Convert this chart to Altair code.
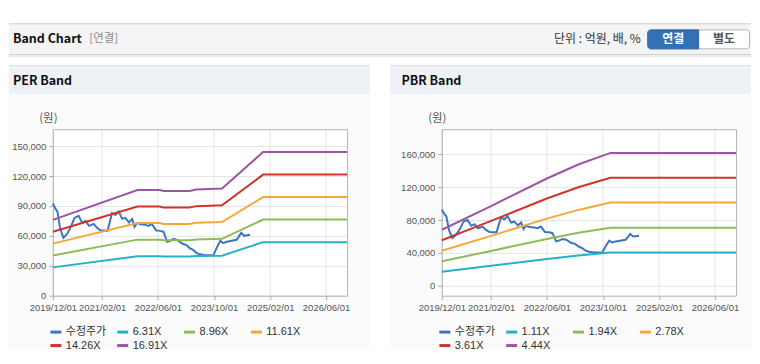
import altair as alt
import pandas as pd

# ---------------- data ----------------
price_name = "수정주가"
price_dates = [
    "2019-12-01", "2019-12-20", "2020-01-10", "2020-02-01", "2020-03-01", "2020-04-03",
    "2020-05-01", "2020-06-06", "2020-07-12", "2020-08-12", "2020-09-10", "2020-10-10",
    "2020-11-20", "2020-12-18", "2021-01-18", "2021-03-20", "2021-04-28", "2021-05-28",
    "2021-06-25", "2021-07-25", "2021-08-22", "2021-09-22", "2021-10-20", "2021-11-10",
    "2021-12-01", "2022-01-01", "2022-02-12", "2022-03-12", "2022-04-10", "2022-05-15",
    "2022-06-20", "2022-07-20", "2022-08-20", "2022-09-15", "2022-10-15", "2022-11-15",
    "2023-01-01", "2023-02-01", "2023-03-01", "2023-04-01", "2023-05-01", "2023-06-01",
    "2023-07-15", "2023-09-25", "2023-10-25", "2023-11-25", "2023-12-20", "2024-01-20",
    "2024-04-15", "2024-05-25", "2024-06-20", "2024-08-10",
]
price_vals = [
    92500, 88000, 84000, 68000, 58000, 62000,
    68000, 78000, 80000, 73000, 75000, 70000,
    72000, 68000, 65500, 65000, 83000, 81000,
    84500, 77000, 78000, 73500, 77000, 69000,
    73000, 71500, 71000, 70000, 72000, 65500,
    65000, 64000, 54000, 55000, 57000, 56000,
    52000, 51000, 48000, 46000, 43000, 41500,
    40500, 40500, 48000, 55000, 52700, 54000,
    56000, 63000, 60000, 61000,
]

per_names = ["6.31X", "8.96X", "11.61X", "14.26X", "16.91X"]
per_dates = ["2019-12-01", "2021-12-05", "2022-06-15", "2022-07-20", "2023-03-01",
             "2023-05-01", "2023-12-10", "2024-12-01", "2026-12-01"]
per_6_31 = [28400, 39600, 39600, 39200, 39200, 39700, 40100, 53700, 53700]
per_8_96 = [40300, 56200, 56200, 55600, 55600, 56400, 57000, 76300, 76300]
per_11_61 = [52200, 72800, 72800, 72000, 72000, 73100, 73800, 98900, 98900]
per_14_26 = [64100, 89400, 89400, 88500, 88500, 89800, 90700, 121400, 121400]
per_16_91 = [76000, 106000, 106000, 105000, 105000, 106500, 107500, 144000, 144000]

pbr_names = ["1.11X", "1.94X", "2.78X", "3.61X", "4.44X"]
pbr_dates = ["2019-12-01", "2021-02-01", "2022-06-01", "2023-03-01", "2023-12-05", "2026-12-01"]
pbr_1_11 = [17100, 24300, 32600, 36900, 40400, 40400]
pbr_1_94 = [29800, 42400, 57000, 64500, 70600, 70600]
pbr_2_78 = [42700, 60700, 81700, 92300, 101200, 101200]
pbr_3_61 = [55400, 78900, 106100, 119900, 131400, 131400]
pbr_4_44 = [68200, 97000, 130500, 147500, 161600, 161600]

x_ticks = ["2019-12-01", "2021-02-01", "2022-06-01", "2023-10-01", "2025-02-01", "2026-06-01"]
x_domain = ["2019-12-01", "2026-12-01"]
per_y_ticks = [0, 30000, 60000, 90000, 120000, 150000]
per_y_domain = [0, 167000]
pbr_y_ticks = [0, 40000, 80000, 120000, 160000]
pbr_y_domain = [-12000, 190500]

colors = ["#3b76c2", "#25b1c5", "#8fbb59", "#f3a93a", "#d0342c", "#9a56a3"]

# ---------------- style ----------------
W, H = 295, 167
KFONT = "Noto Sans CJK KR"
LFONT = "Liberation Sans, Noto Sans CJK KR"
AXFONT = "Liberation Sans"
BOTTOM = 221   # bottom of drawing, relative to plot top (page y 349)
RIGHT_L = 700  # right end of full-width header, relative to left plot (page x 752)
RIGHT_R = 310  # right end of right panel, relative to right plot (page x 752)


def dt(s):
    y, m, d = (int(p) for p in s.split("-"))
    return alt.DateTime(year=y, month=m, date=d, utc=True)


def box(x, x2, y, y2, **kw):
    return alt.Chart(alt.Data(values=[{}])).mark_rect(**kw).encode(
        x=alt.value(x), x2=alt.value(x2), y=alt.value(y), y2=alt.value(y2))


def label(x, y, text, **kw):
    return alt.Chart(alt.Data(values=[{}])).mark_text(text=text, baseline="middle", **kw).encode(
        x=alt.value(x), y=alt.value(y))


def panel(band_dates, band_vals, band_names, y_domain, y_ticks, deco):
    price_df = pd.DataFrame({"date": price_dates, "value": price_vals, "series": price_name})
    rows = []
    for name, vals in zip(band_names, band_vals):
        for d, v in zip(band_dates, vals):
            rows.append({"date": d, "value": v, "series": name})
    band_df = pd.DataFrame(rows)

    X = alt.X("date:T",
              scale=alt.Scale(type="utc", domain=[dt(d) for d in x_domain]),
              axis=alt.Axis(values=[dt(d) for d in x_ticks], format="%Y/%m/%d", title=None,
                            labelFont=AXFONT, labelFontSize=9.5, labelColor="#555",
                            tickSize=4, tickColor="#aaaaaa", domain=False, grid=False,
                            labelOverlap=False, labelFlush=False, labelPadding=3, zindex=1))
    Y = alt.Y("value:Q",
              scale=alt.Scale(domain=y_domain, nice=False, zero=False),
              axis=alt.Axis(values=y_ticks, format=",d", title="(원)", titleAngle=0,
                            titleX=-5, titleY=-11, titleAlign="center", titleBaseline="middle",
                            titleFont=KFONT, titleFontSize=11.5, titleFontWeight="normal",
                            titleColor="#555",
                            labelFont=AXFONT, labelFontSize=9.5, labelColor="#555",
                            tickSize=4, tickColor="#aaaaaa", domain=False, grid=False,
                            labelFlush=False, labelPadding=3, zindex=1))
    color = alt.Color("series:N",
                      scale=alt.Scale(domain=[price_name] + band_names, range=colors),
                      legend=alt.Legend(title=None, orient="none", legendX=-4, legendY=196.5,
                                        direction="horizontal", columns=4, gridAlign="all",
                                        columnPadding=4, rowPadding=0.5, padding=0,
                                        symbolType="stroke", symbolSize=121,
                                        symbolStrokeWidth=3, labelFont=LFONT,
                                        labelFontSize=11, labelColor="#333",
                                        labelOffset=3, labelLimit=200))

    plot_fill = box(0, W, 0, H, fill="white")
    vgrid = alt.Chart(pd.DataFrame({"date": x_ticks})).mark_rule(
        color="#e4e4e4", strokeWidth=1).encode(x=X, y=alt.value(0), y2=alt.value(H))
    hgrid = alt.Chart(pd.DataFrame({"value": y_ticks})).mark_rule(
        color="#e4e4e4", strokeWidth=1, yOffset=0.5).encode(y=Y, x=alt.value(0), x2=alt.value(W))
    border = box(0.5, W + 0.5, 0.5, H + 0.5, fill="transparent", stroke="#b5b5b5", strokeWidth=1)
    price_line = alt.Chart(price_df).mark_line(strokeWidth=2).encode(
        x=X, y=Y, color=color)
    band_lines = alt.Chart(band_df).mark_line(strokeWidth=2).encode(
        x=X, y=Y, color=color, detail="series:N")
    return alt.layer(*deco, plot_fill, vgrid, hgrid, border, price_line, band_lines).properties(
        width=W, height=H)


# decorations for left cell (coordinates relative to left plot origin, page (52,128))
left_deco = [
    box(-44, RIGHT_L, -120, BOTTOM, fill="white"),
    box(-44, RIGHT_L, -106, -105, fill="#b9b9b9"),
    box(-44, RIGHT_L, -105, -75, fill="#f4f4f4"),
    box(-44, RIGHT_L, -75, -74, fill="#c4c4c4"),
    box(-44, RIGHT_L, -74, -72, fill="#ececec"),
    label(-40, -90, "Band Chart", align="left", font=KFONT, fontSize=12.5, fontWeight="bold", color="#111"),
    label(36.5, -90, "[연결]", align="left", font=KFONT, fontSize=11.5, color="#8c8c8c"),
    label(589.5, -90, "단위 : 억원, 배, %", align="right", font=KFONT, fontSize=12, color="#333"),
    box(596.5, 698.5, -99.5, -80.5, fill="white", stroke="#b5b5b5", strokeWidth=1, cornerRadius=3),
    box(596.5, 647.5, -99.5, -80.5, fill="#3470b4", stroke="#2f65a3", strokeWidth=1,
        cornerRadiusTopLeft=3, cornerRadiusBottomLeft=3),
    label(622, -90, "연결", align="center", font=KFONT, fontSize=12, fontWeight="bold", color="white"),
    label(673, -90, "별도", align="center", font=KFONT, fontSize=12, fontWeight="bold", color="#555"),
    box(-44, 318, -64, -63, fill="#d4d4d4"),
    box(-44, 318, -63, -35, fill="#eef1f6"),
    box(-44, 318, -35, BOTTOM, fill="#fbfbfb"),
    label(-40, -48, "PER Band", align="left", font=KFONT, fontSize=12.5, fontWeight="bold", color="#111"),
]

# decorations for right cell (relative to right plot origin, page (442,128))
right_deco = [
    box(-52, RIGHT_R, -64, -63, fill="#d4d4d4"),
    box(-52, RIGHT_R, -63, -35, fill="#eef1f6"),
    box(-52, RIGHT_R, -35, BOTTOM, fill="#fbfbfb"),
    label(-40.5, -48, "PBR Band", align="left", font=KFONT, fontSize=12.5, fontWeight="bold", color="#111"),
]

left = panel(per_dates, [per_6_31, per_8_96, per_11_61, per_14_26, per_16_91], per_names,
             per_y_domain, per_y_ticks, left_deco)
right = panel(pbr_dates, [pbr_1_11, pbr_1_94, pbr_2_78, pbr_3_61, pbr_4_44], pbr_names,
              pbr_y_domain, pbr_y_ticks, right_deco)

chart = alt.hconcat(left, right, spacing=95, bounds="flush").resolve_scale(
    color="independent", x="independent", y="independent"
).properties(padding=0, background="white").configure_view(stroke="transparent")

chart.save("out.html", embed_options={"renderer": "svg", "actions": False})
